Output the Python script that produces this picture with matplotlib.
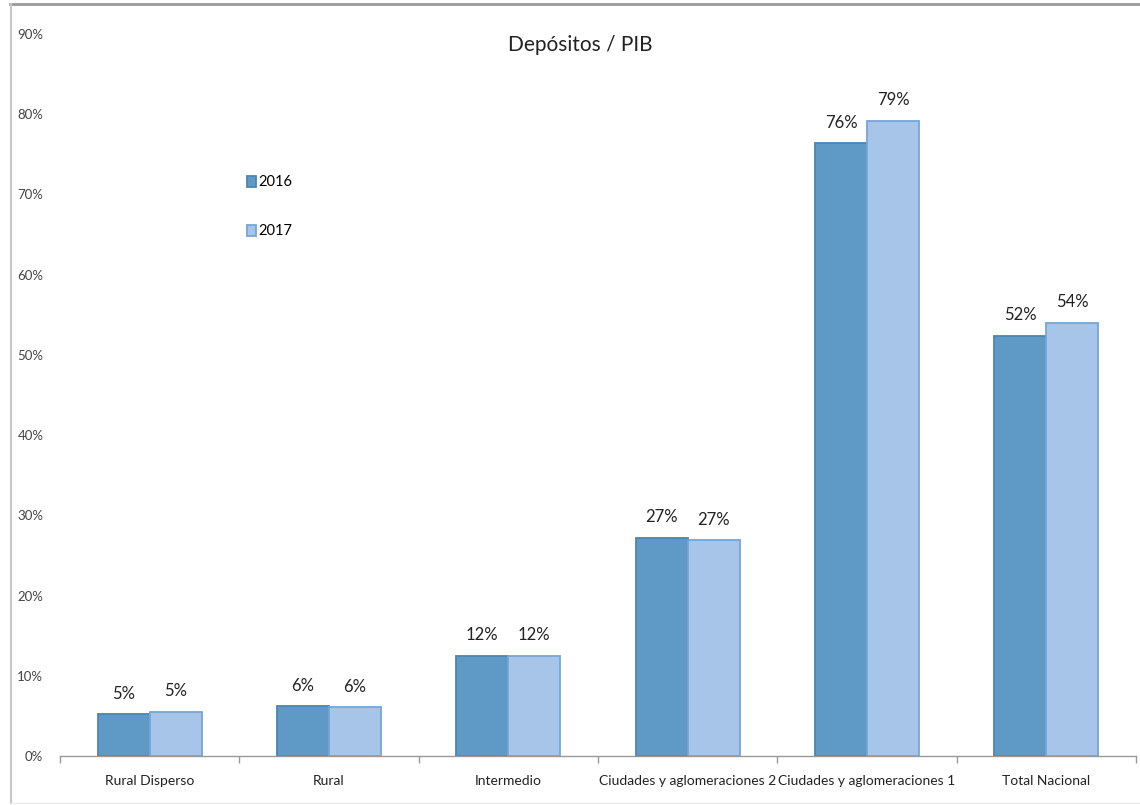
import matplotlib
matplotlib.use("Agg")
import matplotlib.pyplot as plt
import numpy as np
from matplotlib.lines import Line2D

categories = ["Rural Disperso", "Rural", "Intermedio", "Ciudades y aglomeraciones 2",
              "Ciudades y aglomeraciones 1", "Total Nacional"]
series_names = ["2016", "2017"]
values_2016 = [5.2, 6.2, 12.5, 27.2, 76.4, 52.4]
values_2017 = [5.5, 6.1, 12.5, 26.9, 79.2, 54.0]
labels_2016 = ["5%", "6%", "12%", "27%", "76%", "52%"]
labels_2017 = ["5%", "6%", "12%", "27%", "79%", "54%"]
yticks = [0, 10, 20, 30, 40, 50, 60, 70, 80, 90]
ytick_labels = ["0%", "10%", "20%", "30%", "40%", "50%", "60%", "70%", "80%", "90%"]

plt.rcParams['font.family'] = ['Lato', 'DejaVu Sans']

W, H = 1140, 805
fig = plt.figure(figsize=(11.4, 8.05), dpi=100)
ax = fig.add_axes([60/W, 1-756/H, 1076/W, (756-34)/H])

x = np.arange(len(categories))
w = 0.29
c16, c17 = "#5f9ac6", "#a7c5e8"
e16, e17 = "#4d84b3", "#78a5d6"
b1 = ax.bar(x - w/2, values_2016, w, color=c16, edgecolor=e16, linewidth=1.3, label=series_names[0])
b2 = ax.bar(x + w/2, values_2017, w, color=c17, edgecolor=e17, linewidth=1.3, label=series_names[1])

for bars, labs in ((b1, labels_2016), (b2, labels_2017)):
    for b, lab in zip(bars, labs):
        ax.annotate(lab, (b.get_x() + b.get_width()/2, b.get_height()),
                    xytext=(0, 9), textcoords="offset points", ha="center", va="bottom",
                    fontsize=12, color="#222222")

ax.set_xlim(-0.5, len(categories) - 0.5)
ax.set_ylim(0, 90)
ax.set_yticks(yticks)
ax.set_yticklabels(ytick_labels, fontsize=9.5, color="#444444")
ax.tick_params(axis="y", length=0, pad=12)
ax.set_xticks(x)
ax.set_xticklabels(categories, fontsize=10, color="#222222")
ax.set_xticks(np.arange(-0.5, len(categories)), minor=True)
ax.tick_params(axis="x", which="major", length=0, pad=14)
ax.tick_params(axis="x", which="minor", length=5, color="#999999", width=1)
for s in ("top", "right", "left"):
    ax.spines[s].set_visible(False)
ax.spines["bottom"].set_color("#999999")
ax.spines["bottom"].set_linewidth(1)

ax.legend(loc="upper left", bbox_to_anchor=(240/W, 1-168/H), bbox_transform=fig.transFigure,
          frameon=False, fontsize=10.5, handlelength=0.6, handleheight=0.8, handletextpad=0.15,
          labelspacing=2.4, borderpad=0)

fig.text(580/W, 1-45/H, "Depósitos / PIB", ha="center", va="center", fontsize=15, color="#222222")

# chart-area frame (top, left, bottom)
fig.add_artist(Line2D([10/W, 1.0], [1-4/H, 1-4/H], transform=fig.transFigure, color="#9a9a9a", linewidth=2))
fig.add_artist(Line2D([11/W, 11/W], [1-4/H, 1-803/H], transform=fig.transFigure, color="#c8c8c8", linewidth=1.5))
fig.add_artist(Line2D([11/W, 1.0], [1-803/H, 1-803/H], transform=fig.transFigure, color="#ececec", linewidth=1))

fig.savefig("out.png", dpi=100)
